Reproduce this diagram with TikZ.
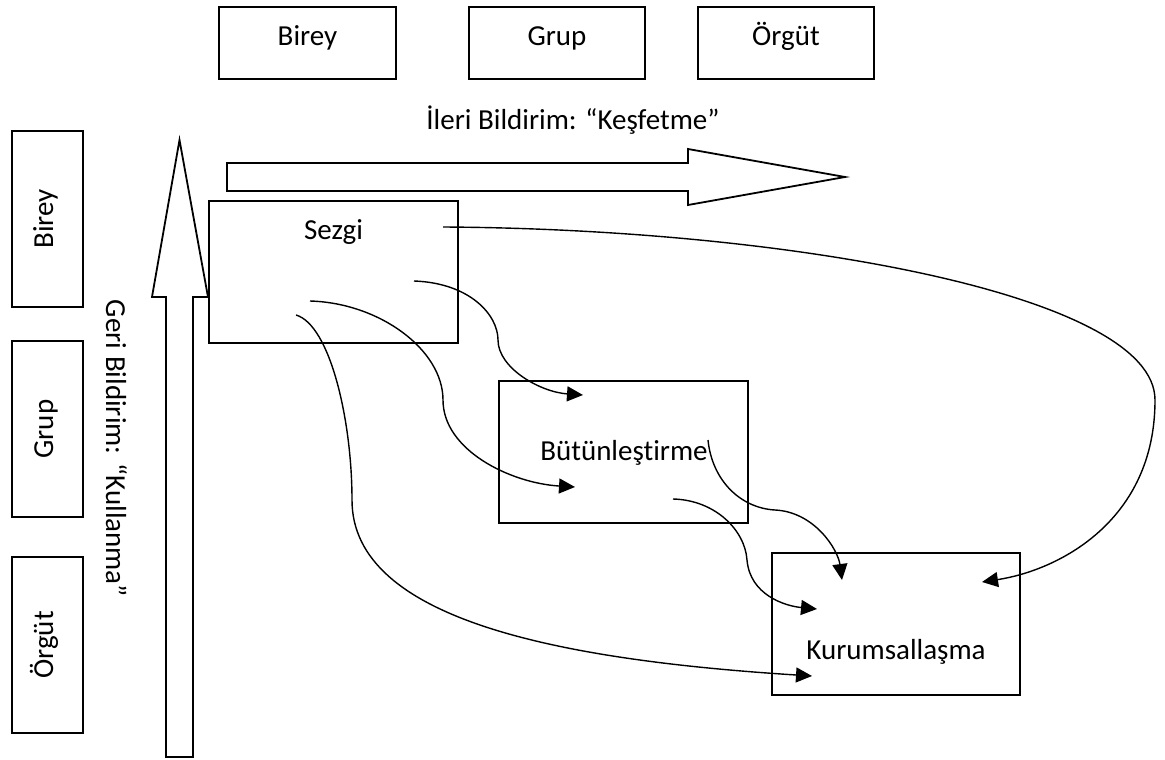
\documentclass[tikz,border=0pt]{standalone}
\usepackage{fontspec}
\setmainfont{Carlito}[Ligatures=NoCommon, RawFeature={-calt;-liga;-dlig}]
\usetikzlibrary{arrows.meta}
\begin{document}
\begin{tikzpicture}[x=1pt,y=-1pt,
  box/.style={draw=black, line width=1.8pt, anchor=north west, inner sep=0pt, outer sep=0pt},
  lbl/.style={font=\fontsize{29}{35}\selectfont, inner sep=0pt, anchor=base},
  flow/.style={line width=1.4pt, -{Triangle[length=16pt,width=15pt]}},
  blockarrow/.style={draw=black, line width=1.8pt, line join=miter, fill=white}]
\useasboundingbox[fill=white] (0,0) rectangle (1165,760);

% level boxes along the top
\node[box, minimum width=177pt, minimum height=72pt] (tbirey) at (219,7) {};
\node[box, minimum width=176pt, minimum height=72pt] (tgrup)  at (469,7) {};
\node[box, minimum width=176pt, minimum height=72pt] (torgut) at (698,7) {};
\node[lbl] (tbireyt) at (307.5,46) {Birey};
\node[lbl] (tgrupt)  at (557,46)   {Grup};
\node[lbl] (torgutt) at (786,46)   {Örgüt};

% level boxes down the left side
\node[box, minimum width=71pt, minimum height=176pt] (lbirey) at (12,131) {};
\node[box, minimum width=71pt, minimum height=176pt] (lgrup)  at (12,341) {};
\node[box, minimum width=71pt, minimum height=176pt] (lorgut) at (12,557) {};
\node[lbl, rotate=90] (lbireyt) at (53,219) {Birey};
\node[lbl, rotate=90] (lgrupt)  at (53,429) {Grup};
\node[lbl, rotate=90] (lorgutt) at (53,645) {Örgüt};

% feed-forward and feedback block arrows
\draw[blockarrow] (227,163) -- (688,163) -- (688,149) -- (845,177) -- (688,205) -- (688,191) -- (227,191) -- cycle;
\draw[blockarrow] (166,757) -- (166,297) -- (152,297) -- (179.5,140) -- (208,297) -- (193,297) -- (193,757) -- cycle;
\node[lbl] (ileri) at (573,129) {İleri Bildirim: “Keşfetme”};
\node[lbl, rotate=-90] (geri) at (106,448.5) {Geri Bildirim: “Kullanma”};

% process boxes
\node[box, minimum width=249pt, minimum height=142pt] (sezgi) at (209,201) {};
\node[box, minimum width=249pt, minimum height=142pt] (butun) at (499,381) {};
\node[box, minimum width=248pt, minimum height=142pt] (kurum) at (772,553) {};
\node[lbl] (sezgit) at (333.5,239) {Sezgi};
\node[lbl] (butunt) at (624,460)   {Bütünleştirme};
\node[lbl] (kurumt) at (896,659)   {Kurumsallaşma};

% connector ends
\coordinate (s1) at (443,227);
\coordinate (s2) at (414,281);
\coordinate (s3) at (310,301);
\coordinate (s4) at (296,315);
\coordinate (b1) at (708,440);
\coordinate (b2) at (673,499);
\coordinate (bin1) at (583,395);
\coordinate (bin2) at (575,487);
\coordinate (kin1) at (982,582);
\coordinate (kin2) at (842,580);
\coordinate (kin3) at (817,609);
\coordinate (kin4) at (812,676);

% learning flows
\draw[flow] (s1) .. controls (790,229) and (1155,295) .. (1155,400)
                 .. controls (1155,520) and (1060,570) .. (kin1);
\draw[flow] (s2) .. controls (470,283) and (498,315) .. (498,340)
                 .. controls (498,368) and (540,392) .. (bin1);
\draw[flow] (s3) .. controls (380,303) and (443,350) .. (443,400)
                 .. controls (443,450) and (510,483) .. (bin2);
\draw[flow] (s4) .. controls (330,325) and (352,420) .. (352,500)
                 .. controls (352,620) and (560,660) .. (kin4);
\draw[flow] (b1) .. controls (712,480) and (740,508) .. (775,510)
                 .. controls (815,512) and (838,550) .. (kin2);
\draw[flow] (b2) .. controls (715,500) and (745,530) .. (747,560)
                 .. controls (750,595) and (785,606) .. (kin3);
\end{tikzpicture}
\end{document}
